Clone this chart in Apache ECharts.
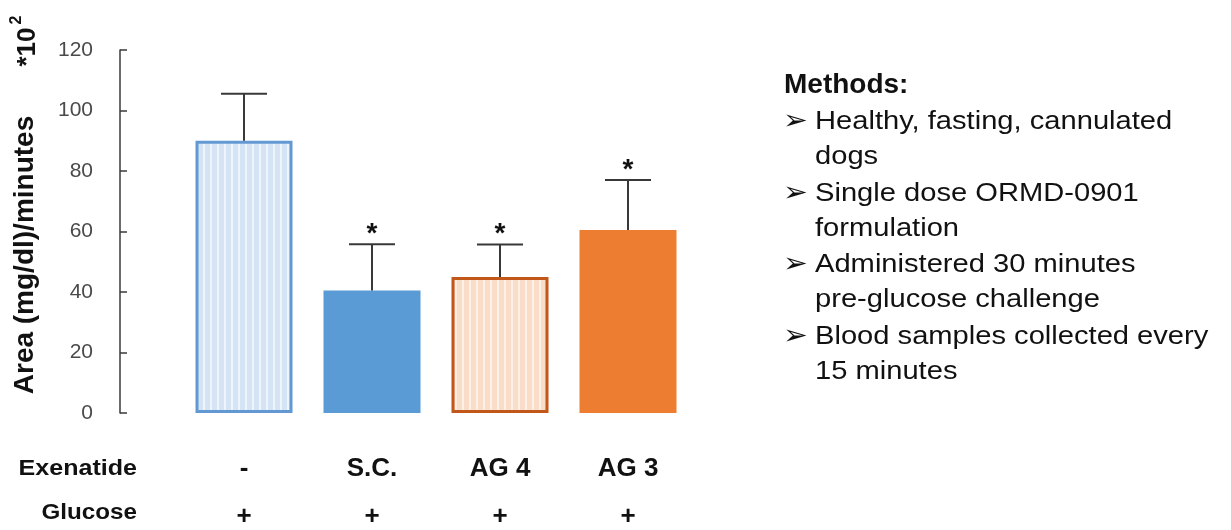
<!DOCTYPE html>
<html><head><meta charset="utf-8">
<script src="https://cdn.jsdelivr.net/npm/echarts@6/dist/echarts.min.js"></script>
<style>html,body{margin:0;padding:0;background:#fff}#c{width:1231px;height:530px}</style>
</head><body><div id="c"></div>
<script>
// ---- data ----
const categories = ['-', 'S.C.', 'AG 4', 'AG 3'];
const glucose = ['+', '+', '+', '+'];
const means = [90, 40.5, 45, 60.5];
const errors = [15.5, 15.3, 10.7, 16.5];
const stars = ['', '*', '*', '*'];
const yMin = 0, yMax = 120, yStep = 20;
const yTitle = 'Area (mg/dl)/minutes';
const rowTitles = ['Exenatide', 'Glucose'];
const methodsTitle = 'Methods:';
const methodsLines = [
  ['Healthy, fasting, cannulated', 'dogs'],
  ['Single dose ORMD-0901', 'formulation'],
  ['Administered 30 minutes', 'pre-glucose challenge'],
  ['Blood samples collected every', '15 minutes']
];

// ---- styles ----
function stripes(bg, line, period, lw) {
  const c = document.createElement('canvas');
  c.width = period; c.height = 4;
  const g = c.getContext('2d');
  g.fillStyle = bg; g.fillRect(0, 0, period, 4);
  g.fillStyle = line; g.fillRect(0, 0, lw, 4);
  return c;
}
const barStyles = [
  { color: { image: stripes('#D4E4F4', '#EDF4FB', 7, 2), repeat: 'repeat' }, borderColor: '#6399D2', borderWidth: 3 },
  { color: '#5B9BD5', borderWidth: 0 },
  { color: { image: stripes('#FADDC8', '#FDF0E6', 7, 2), repeat: 'repeat' }, borderColor: '#C2571A', borderWidth: 3 },
  { color: '#ED7D31', borderWidth: 0 }
];

const FONT = '"Liberation Sans", Arial, sans-serif';
const chart = echarts.init(document.getElementById('c'), null, { renderer: 'canvas' });

const graphics = [];
// y axis title
graphics.push({ type: 'text', x: 25, y: 255, rotation: Math.PI / 2,
  style: { text: yTitle, font: 'bold 28px ' + FONT, fill: '#111', align: 'center', verticalAlign: 'middle' } });
graphics.push({ type: 'text', x: 28, y: 47, rotation: Math.PI / 2,
  style: { text: '*10', font: 'bold 26px ' + FONT, fill: '#111', align: 'center', verticalAlign: 'middle' } });
graphics.push({ type: 'text', x: 17, y: 20, rotation: Math.PI / 2,
  style: { text: '2', font: 'bold 16px ' + FONT, fill: '#111', align: 'center', verticalAlign: 'middle' } });
// row titles
graphics.push({ type: 'text', x: 137, y: 469, scaleX: 1.14,
  style: { text: rowTitles[0], font: 'bold 22px ' + FONT, fill: '#111', align: 'right', verticalAlign: 'middle' } });
graphics.push({ type: 'text', x: 137, y: 513, scaleX: 1.1,
  style: { text: rowTitles[1], font: 'bold 22px ' + FONT, fill: '#111', align: 'right', verticalAlign: 'middle' } });
// methods
graphics.push({ type: 'text', x: 784, y: 85,
  style: { text: methodsTitle, font: 'bold 28px ' + FONT, fill: '#111', align: 'left', verticalAlign: 'middle' } });
let yy = 122;
methodsLines.forEach(function (pair) {
  graphics.push({ type: 'text', x: 783, y: yy, scaleX: 1.1,
    style: { text: '\u27A2', font: '27px "DejaVu Sans", sans-serif', fill: '#111', align: 'left', verticalAlign: 'middle' } });
  pair.forEach(function (t, k) {
    graphics.push({ type: 'text', x: 815, y: yy + k * 35, scaleX: 1.12,
      style: { text: t, font: '26px ' + FONT, fill: '#111', align: 'left', verticalAlign: 'middle' } });
  });
  yy += 71.5;
});

chart.setOption({
  animation: false,
  backgroundColor: '#fff',
  grid: { left: 180, right: 539, top: 50, bottom: 116, containLabel: false },
  xAxis: [
    { type: 'category', data: categories, position: 'bottom',
      axisLine: { show: false }, axisTick: { show: false },
      axisLabel: { margin: 43, fontSize: 26, fontWeight: 'bold', fontFamily: FONT, color: '#111' } },
    { type: 'category', data: categories, position: 'bottom', offset: 48,
      axisLine: { show: false }, axisTick: { show: false },
      axisLabel: { margin: 43, fontSize: 26, fontWeight: 'bold', fontFamily: FONT, color: '#111',
        formatter: function (v, i) { return glucose[i]; } } }
  ],
  yAxis: {
    type: 'value', min: yMin, max: yMax, interval: yStep, offset: 60,
    axisLine: { show: true, lineStyle: { color: '#3a3a3a', width: 1.5 } },
    axisTick: { show: true, inside: true, length: 7, lineStyle: { color: '#3a3a3a', width: 1.5 } },
    splitLine: { show: false },
    axisLabel: { margin: 27, fontSize: 21, fontFamily: FONT, color: '#4a4a4a' }
  },
  graphic: graphics,
  series: [
    { type: 'bar', xAxisIndex: 0, barWidth: 97,
      data: means.map(function (v, i) { return { value: v, itemStyle: barStyles[i] }; }) },
    { type: 'custom', xAxisIndex: 0, z: 5,
      encode: { x: 0, y: 1 },
      data: means.map(function (v, i) { return [i, v, errors[i]]; }),
      renderItem: function (params, api) {
        const i = api.value(0), m = api.value(1), e = api.value(2);
        const b = api.coord([i, m]);
        const t = api.coord([i, m + e]);
        const hw = 23;
        const ls = { stroke: '#383838', lineWidth: 2 };
        return { type: 'group', children: [
          { type: 'line', shape: { x1: b[0], y1: b[1], x2: t[0], y2: t[1] }, style: ls },
          { type: 'line', shape: { x1: t[0] - hw, y1: t[1], x2: t[0] + hw, y2: t[1] }, style: ls },
          { type: 'text', style: { text: stars[i], x: t[0], y: t[1] - 10, align: 'center', verticalAlign: 'middle',
            font: 'bold 28px ' + FONT, fill: '#111' } }
        ] };
      }
    }
  ]
});
</script></body></html>
